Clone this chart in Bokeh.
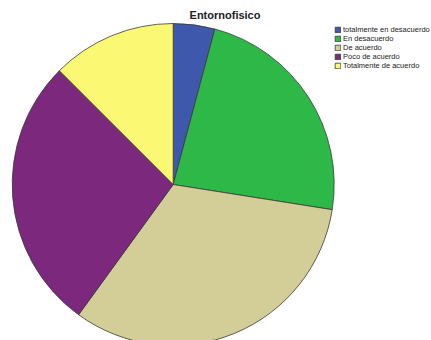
import math
from bokeh.plotting import figure
from bokeh.models import ColumnDataSource, Range1d, Legend, LegendItem
from bokeh.core.properties import value
from bokeh.embed import file_html
from bokeh.resources import INLINE

title = "Entornofisico"
categories = ["totalmente en desacuerdo", "En desacuerdo", "De acuerdo",
              "Poco de acuerdo", "Totalmente de acuerdo"]
counts = [5, 28, 39, 33, 15]
colors = ["#3E58AC", "#2EB848", "#D3CE97", "#7C287D", "#FBF873"]

total = float(sum(counts))
starts, ends = [], []
acc = 0.0
for c in counts:
    starts.append(math.pi / 2 - acc / total * 2 * math.pi)
    acc += c
    ends.append(math.pi / 2 - acc / total * 2 * math.pi)

W, H = 431, 340
cx, cy, R = 172.7, H - 184.0, 161.0

src = ColumnDataSource(dict(cat=categories, start=starts, end=ends, color=colors,
                            x=[cx] * len(counts), y=[cy] * len(counts)))

p = figure(width=W, height=H, output_backend="svg", toolbar_location=None,
           x_range=Range1d(0, W), y_range=Range1d(0, H), min_border=0)
p.axis.visible = False
p.grid.visible = False
p.outline_line_color = None
p.background_fill_color = "white"

r = p.wedge(x="x", y="y", radius=R, start_angle="start", end_angle="end",
            direction="clock", fill_color="color", line_color="#3a3a3a",
            line_width=0.8, source=src)

p.text(x=[224.5], y=[H - 14.5], text=[title], text_align="center",
       text_baseline="middle", text_font=value("Liberation Sans"),
       text_font_style="bold", text_font_size="11px", text_color="#222222")

items = [LegendItem(label=c, renderers=[r], index=i) for i, c in enumerate(categories)]
legend = Legend(items=items, location=(334, H - 70), orientation="vertical",
                glyph_width=7, glyph_height=7, label_height=7, spacing=0,
                padding=0, margin=0, label_standoff=2,
                label_text_font="Liberation Sans", label_text_font_size="7.5px",
                label_text_color="#222222", border_line_color=None,
                background_fill_alpha=0)
p.add_layout(legend, "center")

open("out.html", "w").write(file_html(p, INLINE))
